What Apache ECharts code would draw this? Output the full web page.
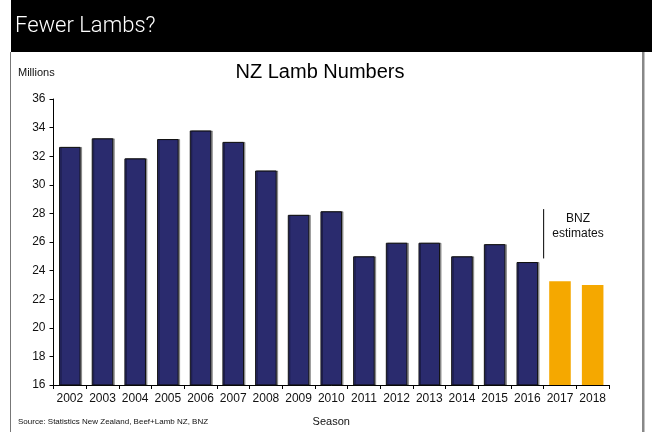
<!DOCTYPE html>
<html>
<head>
<meta charset="utf-8">
<script src="https://cdn.jsdelivr.net/npm/echarts@6/dist/echarts.min.js"></script>
<style>
  html, body { margin: 0; padding: 0; background: #fff; }
  #chart { width: 652px; height: 432px; }
</style>
</head>
<body>
<div id="chart"></div>
<script>
// 季节（年份）
const seasons = ['2002', '2003', '2004', '2005', '2006', '2007', '2008', '2009', '2010',
  '2011', '2012', '2013', '2014', '2015', '2016', '2017', '2018']
// 羔羊数量（百万）
const lambs = [32.65, 33.25, 31.85, 33.2, 33.8, 33.0, 31.0, 27.9, 28.15,
  25.0, 25.95, 25.95, 25.0, 25.85, 24.6, 23.25, 23.0]
// BNZ 估计值从这一年开始
const estimateFrom = '2017'
// 注释竖线的数值范围
const noteLineRange = [24.85, 28.3]

const font = '"Liberation Sans", Arial, sans-serif'
const navy = '#2a2b6e'
const gold = '#f5a800'

const chart = echarts.init(document.getElementById('chart'))

const estIdx = seasons.indexOf(estimateFrom)
const barData = lambs.map((v, i) => ({
  value: v,
  itemStyle: i >= estIdx
    ? { color: gold, borderWidth: 0, shadowBlur: 0, shadowOffsetX: 0 }
    : { color: navy }
}))

const option = {
  animation: false,
  textStyle: { fontFamily: font },
  grid: { left: 53.5, right: 43, top: 99, bottom: 46 },
  xAxis: [
    {
      type: 'category',
      data: seasons,
      name: 'Season',
      nameLocation: 'middle',
      nameGap: 31,
      nameTextStyle: { color: '#111', fontSize: 11, fontFamily: font },
      axisLine: { lineStyle: { color: '#000', width: 1 } },
      axisTick: { show: true, length: 4, lineStyle: { color: '#000' } },
      axisLabel: { color: '#111', fontSize: 12, margin: 8, interval: 0 }
    },
    {
      // 隐藏的数值轴，用来把注释竖线放在类目边界上
      type: 'value',
      show: false,
      min: 0,
      max: seasons.length
    }
  ],
  yAxis: {
    type: 'value',
    min: 16,
    max: 36,
    interval: 2,
    axisLine: { show: true, lineStyle: { color: '#000', width: 1 } },
    axisTick: { show: true, length: 4, lineStyle: { color: '#000' } },
    axisLabel: { color: '#111', fontSize: 12, margin: 8 },
    splitLine: { show: false }
  },
  series: [
    {
      type: 'bar',
      data: barData,
      barWidth: '66%',
      itemStyle: {
        borderColor: '#111',
        borderWidth: 1,
        shadowColor: 'rgba(0,0,0,0.35)',
        shadowOffsetX: 1.5,
        shadowOffsetY: 0
      }
    },
    {
      type: 'line',
      xAxisIndex: 1,
      silent: true,
      symbol: 'none',
      lineStyle: { color: '#000', width: 1 },
      data: [[estIdx, noteLineRange[0]], [estIdx, noteLineRange[1]]]
    }
  ],
  graphic: [
    { type: 'rect', shape: { x: 11, y: 0, width: 641, height: 52 }, style: { fill: '#000' } },
    {
      type: 'text', x: 15, y: 26,
      style: { text: 'Fewer Lambs?', fill: '#fff', font: '300 22px Roboto, sans-serif', verticalAlign: 'middle' }
    },
    { type: 'rect', shape: { x: 10, y: 52, width: 1, height: 380 }, style: { fill: '#777' } },
    { type: 'rect', shape: { x: 642, y: 52, width: 2.5, height: 380 }, style: { fill: '#888' } },
    {
      type: 'text', x: 320, y: 72,
      style: { text: 'NZ Lamb Numbers', fill: '#000', font: '20px ' + font, align: 'center', verticalAlign: 'middle' }
    },
    {
      type: 'text', x: 18, y: 73,
      style: { text: 'Millions', fill: '#111', font: '11px ' + font, verticalAlign: 'middle' }
    },
    {
      type: 'text', x: 18, y: 422,
      style: { text: 'Source: Statistics New Zealand, Beef+Lamb NZ, BNZ', fill: '#111', font: '8px ' + font, verticalAlign: 'middle' }
    },
    {
      type: 'text', x: 578, y: 226,
      style: { text: 'BNZ\nestimates', fill: '#111', font: '12px ' + font, align: 'center', verticalAlign: 'middle', lineHeight: 15 }
    }
  ]
}

chart.setOption(option)
</script>
</body>
</html>
